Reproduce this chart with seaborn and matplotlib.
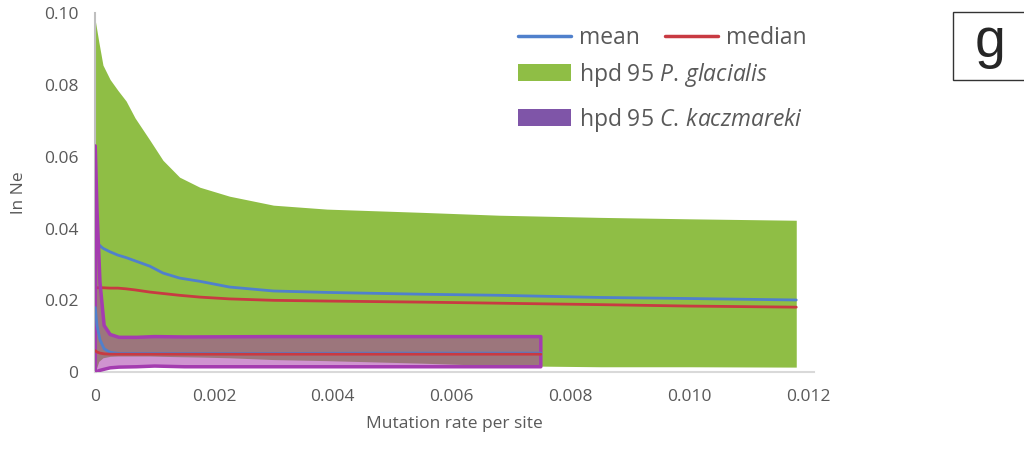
"""
ln Ne vs mutation rate: hpd 95 bands, mean and median for two species.
"""
import matplotlib
matplotlib.use("Agg")
import numpy as np
import pandas as pd
import matplotlib.pyplot as plt
from matplotlib.lines import Line2D
from matplotlib.patches import Patch, Rectangle
import seaborn as sns

# P. glacialis
pg_rate = [0, 0.00006, 0.00013, 0.00025, 0.00038, 0.00052, 0.00067, 0.00092,
           0.00114, 0.00142, 0.00176, 0.00226, 0.003, 0.0039, 0.0055, 0.0068,
           0.0085, 0.0100, 0.0118]
pg_upper = [0.098, 0.092, 0.0855, 0.0815, 0.0785, 0.0755, 0.0708, 0.0646,
            0.059, 0.0543, 0.0515, 0.049, 0.0465, 0.0454, 0.0445, 0.0437,
            0.0431, 0.0427, 0.0423]
pg_lower = [0.0, 0.0030, 0.0040, 0.0044, 0.0045, 0.0045, 0.0045, 0.0045,
            0.0044, 0.0043, 0.0042, 0.0040, 0.0035, 0.0032, 0.0025, 0.0018,
            0.0015, 0.0015, 0.0014]
pg_mean = [0.0368, 0.0355, 0.0345, 0.0335, 0.0326, 0.0319, 0.0310, 0.0295,
           0.0276, 0.0262, 0.0253, 0.0237, 0.0226, 0.0222, 0.0217, 0.0214,
           0.0208, 0.0205, 0.0201]
pg_median = [0.0235, 0.0235, 0.0235, 0.0234, 0.0234, 0.0232, 0.0229, 0.0223,
             0.0219, 0.0214, 0.0209, 0.0204, 0.0200, 0.0198, 0.0195, 0.0192,
             0.0188, 0.0184, 0.0181]

# C. kaczmareki
ck_rate = [0, 0.00003, 0.00008, 0.00015, 0.00025, 0.0004, 0.0007, 0.001,
           0.0015, 0.003, 0.005, 0.0075]
ck_upper = [0.063, 0.045, 0.025, 0.013, 0.0105, 0.0097, 0.0097, 0.0099,
            0.0098, 0.0099, 0.0099, 0.0099]
ck_lower = [0.0, 0.0002, 0.0005, 0.0008, 0.0012, 0.0014, 0.0015, 0.0017,
            0.0015, 0.0015, 0.0015, 0.0015]
ck_mean = [0.018, 0.013, 0.009, 0.0065, 0.0055, 0.0052, 0.0052, 0.0052,
           0.0052, 0.0052, 0.0053, 0.0053]
ck_median = [0.006, 0.0056, 0.0053, 0.0051, 0.0050, 0.0050, 0.0050, 0.0050,
             0.0050, 0.0050, 0.0050, 0.0050]

x_ticks = [0, 0.002, 0.004, 0.006, 0.008, 0.010, 0.012]
x_labels = ["0", "0.002", "0.004", "0.006", "0.008", "0.010", "0.012"]
y_ticks = [0, 0.02, 0.04, 0.06, 0.08, 0.10]
y_labels = ["0", "0.02", "0.04", "0.06", "0.08", "0.10"]

GREEN = "#8fbe45"
BLUE = "#5080cc"
RED = "#c83a42"
PURPLE_EDGE = "#a43cb0"
PURPLE_FILL = "#a83caa"
PURPLE_LEG = "#7f55a8"
GREY = "#595959"

sns.set_style("white")
plt.rcParams["font.family"] = ["Open Sans", "DejaVu Sans"]
plt.rcParams["mathtext.fontset"] = "custom"
plt.rcParams["mathtext.it"] = "Open Sans:italic"
plt.rcParams["mathtext.rm"] = "Open Sans"

pg = pd.DataFrame({"rate": pg_rate, "mean": pg_mean, "median": pg_median})
ck = pd.DataFrame({"rate": ck_rate, "mean": ck_mean, "median": ck_median})

fig = plt.figure(figsize=(10.24, 4.5), dpi=100)
ax = fig.add_axes([0.093, 0.173, 0.702, 0.798])

# hpd bands
ax.fill_between(pg_rate, pg_lower, pg_upper, color=GREEN, linewidth=0, zorder=1)
sns.lineplot(data=pg, x="rate", y="mean", color=BLUE, lw=2, ax=ax, zorder=3)
sns.lineplot(data=pg, x="rate", y="median", color=RED, lw=2, ax=ax, zorder=3)

ax.fill_between(ck_rate, ck_lower, ck_upper, facecolor=PURPLE_FILL, alpha=0.55,
                linewidth=0, zorder=4)
ax.fill_between(ck_rate, ck_lower, ck_upper, facecolor="none",
                edgecolor=PURPLE_EDGE, linewidth=2.5, zorder=5)
sns.lineplot(data=ck, x="rate", y="mean", color=BLUE, lw=2, ax=ax, zorder=6)
sns.lineplot(data=ck, x="rate", y="median", color=RED, lw=2, ax=ax, zorder=6)

ax.set_xlim(0, 0.0121)
ax.set_ylim(0, 0.1)
ax.set_xticks(x_ticks)
ax.set_xticklabels(x_labels)
ax.set_yticks(y_ticks)
ax.set_yticklabels(y_labels)
ax.tick_params(axis="x", colors=GREY, labelsize=12.5, length=0, pad=12)
ax.tick_params(axis="y", colors=GREY, labelsize=12.5, length=0, pad=12)
ax.set_xlabel("Mutation rate per site", color=GREY, fontsize=12.5, labelpad=8)
ax.set_ylabel("ln Ne", color=GREY, fontsize=12.5, labelpad=12)

for side in ["top", "right"]:
    ax.spines[side].set_visible(False)
ax.spines["left"].set_color("#bfbfbf")
ax.spines["bottom"].set_color("#d9d9d9")
ax.spines["left"].set_linewidth(1.5)
ax.spines["bottom"].set_linewidth(1.5)

# legend: first row lines, then two patches
line_handles = [Line2D([0], [0], color=BLUE, lw=2.5),
                Line2D([0], [0], color=RED, lw=2.5)]
leg1 = ax.legend(line_handles, ["mean", "median"], ncol=2, frameon=False,
                 loc="upper left", bbox_to_anchor=(0.56, 1.02),
                 fontsize=16.5, labelcolor=GREY, handlelength=2.3,
                 columnspacing=1.1, handletextpad=0.35)
ax.add_artist(leg1)
patch_handles = [Patch(facecolor=GREEN, edgecolor="none"),
                 Patch(facecolor=PURPLE_LEG, edgecolor="none")]
ax.legend(patch_handles,
          [r"hpd 95 $\it{P.}\,\it{glacialis}$", r"hpd 95 $\it{C.}\,\it{kaczmareki}$"],
          frameon=False, loc="upper left", bbox_to_anchor=(0.56, 0.925),
          fontsize=16.5, labelcolor=GREY, handlelength=2.3, handleheight=0.75,
          handletextpad=0.35, labelspacing=0.75)

# panel label
fig.patches.append(Rectangle((0.931, 0.822), 0.1, 0.151, transform=fig.transFigure,
                             facecolor="white", edgecolor="#333333", linewidth=1))
fig.text(0.967, 0.905, "g", fontsize=40, ha="center", va="center",
         family="Liberation Sans")

fig.savefig("out.png", dpi=100)
